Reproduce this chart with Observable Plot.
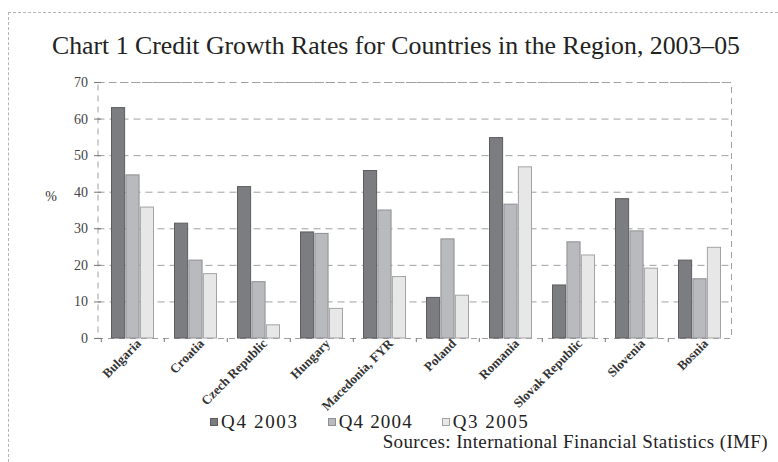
<!DOCTYPE html>
<html><head><meta charset="utf-8">
<script src="https://cdn.jsdelivr.net/npm/d3@7"></script>
<script src="https://cdn.jsdelivr.net/npm/@observablehq/plot@0.6"></script>
<style>
body{margin:0;background:#fff;}
#wrap{position:relative;width:778px;height:462px;overflow:hidden;font-family:"Liberation Serif",serif;color:#222;}
#border{position:absolute;left:8px;top:12px;right:-10px;bottom:-10px;border-top:1px dashed #b5b5b5;border-left:1px dashed #b5b5b5;}
#title{position:absolute;top:31px;left:52px;white-space:nowrap;font-size:25px;}
#chart{position:absolute;left:0;top:60px;}
#legend{position:absolute;top:413px;left:210px;display:flex;align-items:center;font-size:19px;line-height:18px;white-space:nowrap;}
#legend .item{display:flex;align-items:center;}
#legend .sw{width:8px;height:8px;margin-right:3px;box-sizing:border-box;}
#source{position:absolute;top:433px;right:10px;white-space:nowrap;font-size:19px;line-height:18px;}
</style></head>
<body>
<div id="wrap">
  <div id="border"></div>
  <div id="title"></div>
  <div id="chart"></div>
  <div id="legend"></div>
  <div id="source"></div>
</div>
<script>
const titleText = "Chart 1 Credit Growth Rates for Countries in the Region, 2003–05";
const sourceText = "Sources: International Financial Statistics (IMF)";
const countries = ["Bulgaria","Croatia","Czech Republic","Hungary","Macedonia, FYR","Poland","Romania","Slovak Republic","Slovenia","Bosnia"];
const seriesNames = ["Q4 2003","Q4 2004","Q3 2005"];
const q4_2003 = [63.0, 31.4, 41.4, 29.0, 45.8, 11.1, 54.8, 14.5, 38.1, 21.3];
const q4_2004 = [44.6, 21.3, 15.4, 28.6, 35.0, 27.1, 36.6, 26.3, 29.3, 16.2];
const q3_2005 = [35.8, 17.6, 3.6, 8.1, 16.8, 11.7, 46.8, 22.7, 19.1, 24.8];
const yTicks = [0,10,20,30,40,50,60,70];

const seriesValues = [q4_2003, q4_2004, q3_2005];
const fills = ["#7c7d81", "#b9babe", "#e7e7e8"];
const strokes = ["#5d5d60", "#8e8f93", "#a3a3a6"];

function fitWidth(el, target, n) {
  const w = el.getBoundingClientRect().width;
  el.style.letterSpacing = ((target - w) / Math.max(1, n - 1)) + "px";
}

document.getElementById("title").textContent = titleText;
const src = document.getElementById("source");
src.textContent = sourceText;
fitWidth(src, 385, sourceText.length);

(function(){
  const t = document.getElementById("title");
  const w = t.getBoundingClientRect().width;
  const target = 688;
  t.style.fontSize = Math.min(25 * target / w, 27) + "px";
  const w2 = t.getBoundingClientRect().width;
  if (w2 < target) t.style.letterSpacing = ((target - w2) / (titleText.length - 1)) + "px";
})();

const xRange = [102.7, 729.6];
const pIn = 0.317, pOut = 0.1;
const step = (xRange[1] - xRange[0]) / (countries.length - pIn + 2 * pOut);
const bw = step * (1 - pIn);
const third = bw / 3;

const rows = seriesValues.map(vals => countries.map((c, i) => ({country: c, value: vals[i]})));

const barMarks = rows.map((data, s) => Plot.barY(data, {
  x: "country", y: "value",
  fill: fills[s], stroke: strokes[s], strokeWidth: 1,
  insetLeft: s * third + 0.5, insetRight: (2 - s) * third + 0.5
}));

const chart = Plot.plot({
  width: 778, height: 365,
  marginLeft: 97.5, marginRight: 47, marginTop: 22, marginBottom: 87,
  style: {fontFamily: "'Liberation Serif', serif", background: "transparent", color: "#333"},
  x: {domain: countries, range: xRange, paddingInner: pIn, paddingOuter: pOut},
  y: {domain: [0, 70]},
  marks: [
    Plot.ruleY(yTicks.filter(v => v > 0), {stroke: "#a0a0a0", strokeDasharray: "7,5", strokeWidth: 1}),
    Plot.frame({stroke: "#a0a0a0", strokeDasharray: "6,5", strokeWidth: 1}),
    ...barMarks,
    Plot.axisY({ticks: yTicks, tickSize: 7, dx: 3.5, tickFormat: () => "", stroke: "#777", label: null}),
    Plot.text(yTicks, {y: d => d, text: d => String(d), frameAnchor: "left", textAnchor: "end", dx: -10, fontSize: 14, fill: "#444"}),
    Plot.axisX({tickFormat: () => "", tickSize: 4, dx: -step / 2, stroke: "#777", label: null}),
    Plot.axisX({tickSize: 0, tickRotate: -45, tickPadding: 3, dx: 6, fontSize: 13, fontWeight: "bold", fill: "#333", label: null}),
    Plot.text(["%"], {frameAnchor: "left", textAnchor: "middle", dx: -47, dy: -14, fontSize: 14, fill: "#333"})
  ]
});
document.getElementById("chart").appendChild(chart);

const legend = document.getElementById("legend");
const legendWidths = [76, 73, 75];
seriesNames.forEach((name, s) => {
  const it = document.createElement("div");
  it.className = "item";
  it.style.marginRight = "29px";
  const sw = document.createElement("span");
  sw.className = "sw";
  sw.style.background = fills[s];
  sw.style.border = "1px solid " + strokes[s];
  const tx = document.createElement("span");
  tx.textContent = name;
  it.appendChild(sw); it.appendChild(tx);
  legend.appendChild(it);
  fitWidth(tx, legendWidths[s], name.length);
});
</script>
</body></html>
